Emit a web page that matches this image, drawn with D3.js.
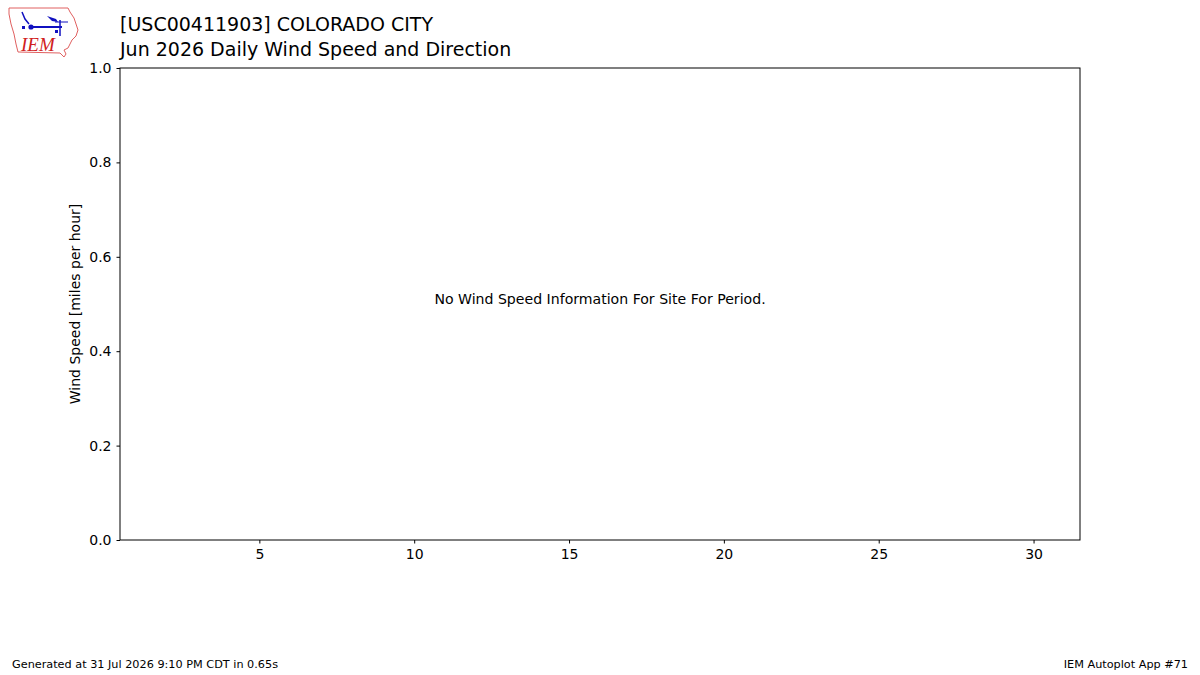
<!DOCTYPE html>
<html><head><meta charset="utf-8">
<script src="https://cdn.jsdelivr.net/npm/d3@7"></script>
<style>body{margin:0;background:#fff;} svg{display:block;font-family:"DejaVu Sans",sans-serif;}</style>
</head><body>
<svg id="c" width="1200" height="675"></svg>
<script>
const titleLines = ["[USC00411903] COLORADO CITY", "Jun 2026 Daily Wind Speed and Direction"];
const yLabel = "Wind Speed [miles per hour]";
const xDomain = [0.5, 31.5];
const yDomain = [0, 1];
const xTicks = [5, 10, 15, 20, 25, 30];
const yTicks = [0, 0.2, 0.4, 0.6, 0.8, 1.0];
const windSpeed = []; // no data for period
const message = "No Wind Speed Information For Site For Period.";
const footerLeft = "Generated at 31 Jul 2026 9:10 PM CDT in 0.65s";
const footerRight = "IEM Autoplot App #71";

const svg = d3.select("#c");
const m = {l:120, t:68, r:1080, b:540};
const x = d3.scaleLinear().domain(xDomain).range([m.l, m.r]);
const y = d3.scaleLinear().domain(yDomain).range([m.b, m.t]);

// Logo
const logo = svg.append("g");
logo.append("path")
  .attr("d","M9,8 L68,8 L70,12 L74,18 L76,24 L78,30 L76,36 L72,40 L70,44 L68,48 L64,50 L66,54 L64,57 L60,53 L18,52 L16,44 L14,34 L11,24 L9,14 Z")
  .attr("fill","none").attr("stroke","#e06060").attr("stroke-width",1);
const blue = "#1010c0";
logo.append("line").attr("x1",31).attr("y1",27).attr("x2",62).attr("y2",27).attr("stroke",blue).attr("stroke-width",2);
logo.append("circle").attr("cx",31).attr("cy",27).attr("r",2.6).attr("fill",blue);
logo.append("path").attr("d","M22,12 L25,19 L29,24").attr("fill","none").attr("stroke",blue).attr("stroke-width",1.5);
logo.append("path").attr("d","M47,16 L56,19 L58,22 L52,21 Z").attr("fill",blue);
logo.append("line").attr("x1",60).attr("y1",20).attr("x2",60).attr("y2",36).attr("stroke",blue).attr("stroke-width",1.5);
logo.append("line").attr("x1",55).attr("y1",22).attr("x2",68).attr("y2",22).attr("stroke",blue).attr("stroke-width",1);
logo.append("rect").attr("x",22).attr("y",26).attr("width",3).attr("height",3).attr("fill",blue);
logo.append("rect").attr("x",55).attr("y",30).attr("width",3).attr("height",3).attr("fill",blue);
logo.append("text").attr("x",21).attr("y",51).attr("font-family","Liberation Serif, serif").attr("font-style","italic")
  .attr("font-size",19).attr("fill","#d02020").text("IEM");

// Titles
svg.selectAll(".title").data(titleLines).join("text")
  .attr("x",120).attr("y",(d,i)=>31+i*24.5).attr("font-size",19).attr("fill","#000").text(d=>d);

// Axes
const xAxis = d3.axisBottom(x).tickValues(xTicks).tickFormat(d3.format("d")).tickSizeOuter(0).tickSize(3.5).tickPadding(6);
const yAxis = d3.axisLeft(y).tickValues(yTicks).tickFormat(d3.format(".1f")).tickSizeOuter(0).tickSize(3.5).tickPadding(5);
const gx = svg.append("g").attr("transform",`translate(0,${m.b})`).call(xAxis);
const gy = svg.append("g").attr("transform",`translate(${m.l},0)`).call(yAxis);
[gx,gy].forEach(g=>{
  g.select(".domain").remove();
  g.selectAll("text").attr("font-size",14).attr("font-family","DejaVu Sans").attr("fill","#000");
  g.selectAll("line").attr("stroke","#000").attr("stroke-width",1);
});

// Frame
svg.append("rect").attr("x",m.l).attr("y",m.t).attr("width",m.r-m.l).attr("height",m.b-m.t)
  .attr("fill","none").attr("stroke","#000").attr("stroke-width",1);

// Data bars (none)
svg.append("g").selectAll("rect").data(windSpeed).join("rect")
  .attr("x",d=>x(d.day)-10).attr("width",20).attr("y",d=>y(d.v)).attr("height",d=>m.b-y(d.v)).attr("fill","#1f77b4");

// y label
svg.append("text").attr("transform",`translate(80,${(m.t+m.b)/2}) rotate(-90)`).attr("text-anchor","middle")
  .attr("font-size",14).text(yLabel);

// message
svg.append("text").attr("x",x(16)).attr("y",y(0.5)).attr("text-anchor","middle").attr("font-size",14.1).text(message);

// footer
svg.append("text").attr("x",12).attr("y",668).attr("font-size",11.25).text(footerLeft);
svg.append("text").attr("x",1188).attr("y",668).attr("text-anchor","end").attr("font-size",11.25).text(footerRight);
</script>
</body></html>
